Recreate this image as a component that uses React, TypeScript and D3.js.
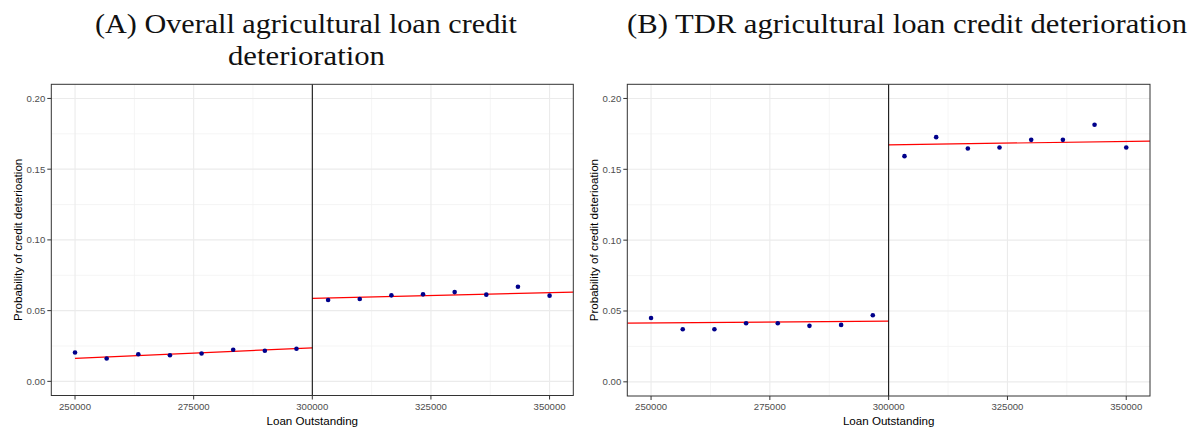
import React from "react";
import * as d3 from "d3";

// Binned loan outstanding values (bin centres)
const loanBins = [
  250000, 256667, 263333, 270000, 276667, 283333, 290000, 296667,
  303333, 310000, 316667, 323333, 330000, 336667, 343333, 350000,
];

// Probability of credit deterioration per bin
const overallProb = [
  0.0204, 0.0162, 0.0192, 0.0185, 0.0197, 0.0223, 0.0216, 0.0230,
  0.0575, 0.0582, 0.0608, 0.0615, 0.0631, 0.0613, 0.0669, 0.0606,
];
const tdrProb = [
  0.0451, 0.0371, 0.0371, 0.0414, 0.0414, 0.0395, 0.0402, 0.047,
  0.1593, 0.1727, 0.1647, 0.1654, 0.1708, 0.1708, 0.1815, 0.1654,
];

// Fitted linear segments either side of the 300000 threshold: [x0, y0, x1, y1]
const overallFit = [
  [250000, 0.0162, 300000, 0.0237],
  [300000, 0.0587, 355000, 0.0631],
];
const tdrFit = [
  [245000, 0.0414, 300000, 0.0428],
  [300000, 0.1673, 355000, 0.1699],
];

const threshold = 300000;
const xTicks = [250000, 275000, 300000, 325000, 350000];
const xMinor = [262500, 287500, 312500, 337500];
const yTicks = [0, 0.05, 0.1, 0.15, 0.2];
const yMinor = [0.025, 0.075, 0.125, 0.175];

const titleA = ["(A) Overall agricultural loan credit", "deterioration"];
const titleB = ["(B) TDR agricultural loan credit deterioration"];
const xLabel = "Loan Outstanding";
const yLabel = "Probability of credit deterioation";

type PanelProps = {
  left: number;
  right: number;
  top: number;
  bottom: number;
  values: number[];
  fit: number[][];
};

function Panel({ left, right, top, bottom, values, fit }: PanelProps) {
  const x = d3.scaleLinear().domain([245000, 355000]).range([left, right]);
  const y = d3.scaleLinear().domain([-0.01, 0.21]).range([bottom, top]);
  const sans = "Liberation Sans, Arial, sans-serif";
  const cx = (left + right) / 2;
  const cy = (top + bottom) / 2;
  return (
    <g>
      <rect x={left} y={top} width={right - left} height={bottom - top} fill="#fff" />
      {xMinor.map((v) => (
        <line key={"xm" + v} x1={x(v)} x2={x(v)} y1={top} y2={bottom} stroke="#F2F2F2" strokeWidth={0.8} />
      ))}
      {yMinor.map((v) => (
        <line key={"ym" + v} x1={left} x2={right} y1={y(v)} y2={y(v)} stroke="#F2F2F2" strokeWidth={0.8} />
      ))}
      {xTicks.map((v) => (
        <line key={"xg" + v} x1={x(v)} x2={x(v)} y1={top} y2={bottom} stroke="#EBEBEB" strokeWidth={1.1} />
      ))}
      {yTicks.map((v) => (
        <line key={"yg" + v} x1={left} x2={right} y1={y(v)} y2={y(v)} stroke="#EBEBEB" strokeWidth={1.1} />
      ))}
      {fit.map((s, i) => (
        <line key={"f" + i} x1={x(s[0])} y1={y(s[1])} x2={x(s[2])} y2={y(s[3])} stroke="#FF0000" strokeWidth={1.2} />
      ))}
      <line x1={x(threshold)} x2={x(threshold)} y1={top} y2={bottom} stroke="#000" strokeWidth={1} />
      {values.map((v, i) => (
        <circle key={"p" + i} cx={x(loanBins[i])} cy={y(v)} r={2.3} fill="#00008B" />
      ))}
      <rect x={left} y={top} width={right - left} height={bottom - top} fill="none" stroke="#333333" strokeWidth={1} />
      {xTicks.map((v) => (
        <g key={"xt" + v}>
          <line x1={x(v)} x2={x(v)} y1={bottom} y2={bottom + 4} stroke="#333333" />
          <text x={x(v)} y={bottom + 14} textAnchor="middle" fontFamily={sans} fontSize={9.6} fill="#4D4D4D">
            {v}
          </text>
        </g>
      ))}
      {yTicks.map((v) => (
        <g key={"yt" + v}>
          <line x1={left - 4} x2={left} y1={y(v)} y2={y(v)} stroke="#333333" />
          <text x={left - 6} y={y(v) + 3.4} textAnchor="end" fontFamily={sans} fontSize={9.6} fill="#4D4D4D">
            {d3.format(".2f")(v)}
          </text>
        </g>
      ))}
      <text x={cx} y={425} textAnchor="middle" fontFamily={sans} fontSize={11.6} fill="#000">
        {xLabel}
      </text>
      <text
        transform={`translate(${left - 29},${cy}) rotate(-90)`}
        textAnchor="middle"
        fontFamily={sans}
        fontSize={11.6}
        fill="#000"
      >
        {yLabel}
      </text>
    </g>
  );
}

export default function App() {
  const serif = "Liberation Serif, Times New Roman, serif";
  return (
    <svg
      width={1198}
      height={430}
      style={{ position: "absolute", left: 0, top: 0, background: "#fff" }}
    >
      <rect width={1198} height={430} fill="#fff" />
      <Panel left={51.3} right={573.3} top={84.3} bottom={395.5} values={overallProb} fit={overallFit} />
      <Panel left={627.3} right={1150} top={84.3} bottom={396} values={tdrProb} fit={tdrFit} />
      <text x={95} y={33} fontFamily={serif} fontSize={27} fill="#111" textLength={422} lengthAdjust="spacingAndGlyphs">
        {titleA[0]}
      </text>
      <text x={228} y={65} fontFamily={serif} fontSize={27} fill="#111" textLength={157} lengthAdjust="spacingAndGlyphs">
        {titleA[1]}
      </text>
      <text x={627} y={33} fontFamily={serif} fontSize={27} fill="#111" textLength={560} lengthAdjust="spacingAndGlyphs">
        {titleB[0]}
      </text>
    </svg>
  );
}
